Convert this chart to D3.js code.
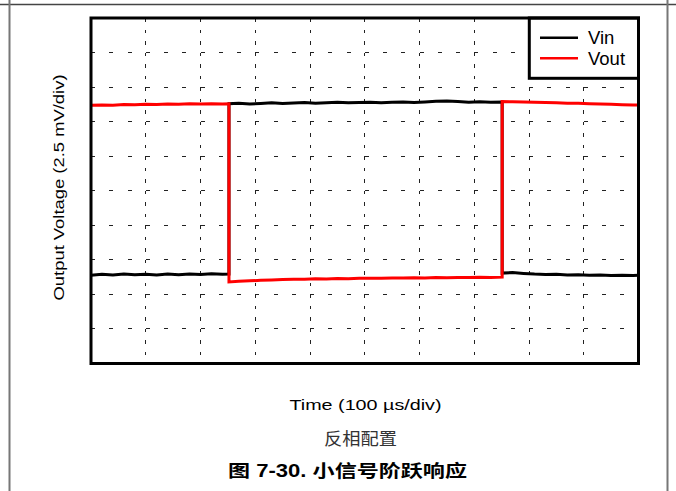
<!DOCTYPE html>
<html>
<head>
<meta charset="utf-8">
<script src="https://cdn.jsdelivr.net/npm/d3@7"></script>
<style>
body { margin: 0; background: #fff; }
</style>
</head>
<body>
<div id="chart"></div>
<script>
// time in µs (100 µs/div), voltage in mV (2.5 mV/div)
var time = [0, 20, 40, 60, 80, 100, 120, 140, 160, 180, 200, 220, 240, 252,
    252, 270, 290, 310, 330, 350, 370, 390, 410, 430, 450, 470, 490, 510, 530,
    550, 570, 590, 610, 630, 650, 670, 690, 710, 730, 751,
    751, 770, 790, 810, 830, 850, 870, 890, 910, 930, 950, 970, 990, 1000];
var vinValue = [-6.12, -6.05, -6.10, -6.02, -6.08, -6.04, -6.09, -6.03, -6.07, -6.02, -6.06, -6.01, -6.05, -6.03,
    6.30, 6.33, 6.27, 6.32, 6.36, 6.31, 6.35, 6.38, 6.34, 6.37, 6.40, 6.36, 6.39, 6.41, 6.37,
    6.40, 6.43, 6.38, 6.42, 6.47, 6.50, 6.46, 6.41, 6.44, 6.40, 6.42,
    -5.96, -5.92, -5.98, -6.03, -6.06, -6.04, -6.09, -6.07, -6.11, -6.09, -6.13, -6.11, -6.14, -6.12];
var voutValue = [6.18, 6.21, 6.19, 6.24, 6.22, 6.26, 6.24, 6.28, 6.26, 6.29, 6.27, 6.30, 6.28, 6.29,
    -6.60, -6.55, -6.52, -6.48, -6.46, -6.43, -6.41, -6.40, -6.37, -6.38, -6.35, -6.36, -6.34, -6.33, -6.34,
    -6.31, -6.32, -6.30, -6.31, -6.28, -6.29, -6.27, -6.28, -6.26, -6.27, -6.25,
    6.45, 6.44, 6.42, 6.40, 6.38, 6.37, 6.34, 6.33, 6.30, 6.28, 6.26, 6.23, 6.21, 6.20];
var seriesNames = ["Vin", "Vout"];
var seriesColors = ["#000000", "#ff0000"];
var xGrid = [100, 200, 300, 400, 500, 600, 700, 800, 900];
var yGrid = [-10, -7.5, -5, -2.5, 0, 2.5, 5, 7.5, 10];

var margin = {top: 18, right: 37.5, bottom: 127.5, left: 91},
    width = 676 - margin.left - margin.right,
    height = 491 - margin.top - margin.bottom;

var x = d3.scaleLinear().domain([0, 1000]).range([0, width]);
var y = d3.scaleLinear().domain([-12.5, 12.5]).range([height, 0]);

var root = d3.select("#chart").append("svg")
    .attr("width", 676)
    .attr("height", 491);

// page frame lines
root.append("line").attr("x1", 0).attr("x2", 676).attr("y1", 4.5).attr("y2", 4.5)
    .style("stroke", "#444").style("stroke-width", 1.5);
root.append("line").attr("x1", 9.5).attr("x2", 9.5).attr("y1", 0).attr("y2", 491)
    .style("stroke", "#777").style("stroke-width", 2);
root.append("line").attr("x1", 667.5).attr("x2", 667.5).attr("y1", 0).attr("y2", 491)
    .style("stroke", "#777").style("stroke-width", 2);

var svg = root.append("g")
    .attr("transform", "translate(" + margin.left + "," + margin.top + ")");

// dashed grid
svg.selectAll(".hgrid")
    .data(yGrid)
    .enter().append("line")
    .attr("class", "hgrid")
    .attr("x1", 0).attr("x2", width)
    .attr("y1", function(d) { return y(d); })
    .attr("y2", function(d) { return y(d); })
    .attr("shape-rendering", "crispEdges")
    .style("stroke", "#222")
    .style("stroke-width", 1)
    .style("stroke-dasharray", "4," + (width / 30 - 4));

svg.selectAll(".vgrid")
    .data(xGrid)
    .enter().append("line")
    .attr("class", "vgrid")
    .attr("x1", function(d) { return x(d); })
    .attr("x2", function(d) { return x(d); })
    .attr("y1", 0).attr("y2", height)
    .attr("shape-rendering", "crispEdges")
    .style("stroke", "#222")
    .style("stroke-width", 1)
    .style("stroke-dasharray", "3.5," + (height / 30 - 3.5));

// traces
var series = [vinValue, voutValue];
series.forEach(function(vals, i) {
    var line = d3.line()
        .x(function(d, j) { return x(time[j]); })
        .y(function(d) { return y(d); });
    svg.append("path")
        .datum(vals)
        .attr("d", line)
        .style("fill", "none")
        .style("stroke", seriesColors[i])
        .style("stroke-width", 3);
});

// legend
var legend = svg.append("g");
legend.append("rect")
    .attr("x", 438.3).attr("y", 0)
    .attr("width", width - 438.3).attr("height", 60.3)
    .style("fill", "#fff")
    .style("stroke", "#000")
    .style("stroke-width", 3);
seriesNames.forEach(function(name, i) {
    legend.append("line")
        .attr("x1", 449).attr("x2", 487)
        .attr("y1", 19.7 + i * 20.5).attr("y2", 19.7 + i * 20.5)
        .style("stroke", seriesColors[i])
        .style("stroke-width", 2.5);
    legend.append("text")
        .attr("x", 497).attr("y", 26.3 + i * 20.5)
        .style("font-family", "Liberation Sans, Arial, sans-serif")
        .style("font-size", "18.5px")
        .text(name);
});

// plot frame
svg.append("rect")
    .attr("x", 0).attr("y", 0)
    .attr("width", width).attr("height", height)
    .style("fill", "none")
    .style("stroke", "#000")
    .style("stroke-width", 3);

// axis labels
root.append("text")
    .attr("transform", "translate(63.5,187.5) rotate(-90)")
    .attr("text-anchor", "middle")
    .attr("textLength", 226)
    .attr("lengthAdjust", "spacingAndGlyphs")
    .style("font-family", "Liberation Sans, Arial, sans-serif")
    .style("font-size", "15.5px")
    .text("Output Voltage (2.5 mV/div)");

root.append("text")
    .attr("x", 365.5).attr("y", 409.5)
    .attr("text-anchor", "middle")
    .attr("textLength", 152)
    .attr("lengthAdjust", "spacingAndGlyphs")
    .style("font-family", "Liberation Sans, Arial, sans-serif")
    .style("font-size", "15.5px")
    .text("Time (100 µs/div)");

root.append("text")
    .attr("x", 360.5).attr("y", 444.5)
    .attr("text-anchor", "middle")
    .attr("textLength", 73)
    .attr("lengthAdjust", "spacingAndGlyphs")
    .style("font-family", "Noto Sans CJK SC, sans-serif")
    .style("font-size", "17px")
    .style("fill", "#333")
    .text("反相配置");

root.append("text")
    .attr("x", 228).attr("y", 477)
    .attr("textLength", 239)
    .attr("lengthAdjust", "spacingAndGlyphs")
    .style("font-family", "Liberation Sans, Noto Sans CJK SC, sans-serif")
    .style("font-weight", "bold")
    .style("font-size", "17.5px")
    .text("图 7-30. 小信号阶跃响应");
</script>
</body>
</html>
